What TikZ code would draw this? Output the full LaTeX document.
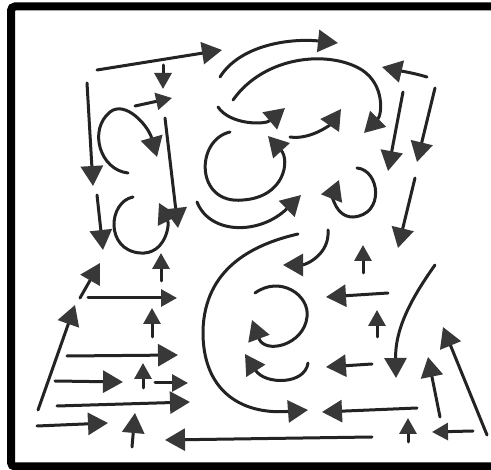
\documentclass[tikz,border=0pt]{standalone}
\usetikzlibrary{arrows.meta}
\definecolor{ink}{HTML}{232323}
\definecolor{headc}{HTML}{383838}
\tikzset{
  arr/.style={draw=ink, line width=3pt, line cap=round, -{Triangle[length=20pt,width=22pt,color=headc]}},
  sarr/.style={draw=ink, line width=3pt, line cap=round, -{Triangle[length=16pt,width=17pt,color=headc]}},
  frame/.style={line width=8pt, draw=black, rounded corners=4pt}
}
\begin{document}
\begin{tikzpicture}[x=1pt,y=-1pt]
\fill[white] (0,0) rectangle (491,470);
\useasboundingbox (0,0) rectangle (491,470);
\draw[frame] (498,6.5) -- (11,6.5) -- (11,466.5) -- (498,466.5);

% upper left
\draw[arr] (97,70) -- (222,50);
\draw[sarr] (163,65) -- (163,89);
\draw[sarr] (135,106) -- (172,98);
\draw[arr] (128,173) .. controls (100,170) and (88,130) .. (110,112) .. controls (125,100) and (148,125) .. (157,157);
\draw[arr] (87,83) -- (93,186);
\draw[arr] (165,118) -- (178,228);
\draw[arr] (97,195) -- (103,250);
\draw[arr] (133,197) .. controls (108,202) and (105,250) .. (140,253) .. controls (165,255) and (170,225) .. (159,203);
\draw[sarr] (161,281) -- (161,253);

% left lower
\draw[arr] (80,298) -- (100,263);
\draw[sarr] (88,298) -- (177,298);
\draw[sarr] (152,337) -- (152,308);
\draw[arr] (38,410) -- (75,305);
\draw[arr] (67,356) -- (178,355);
\draw[arr] (55,381) -- (123,382);
\draw[sarr] (143,388) -- (143,363);
\draw[sarr] (155,383) -- (188,383);
\draw[arr] (57,406) -- (190,402);
\draw[arr] (37,426) -- (108,423);
\draw[arr] (132,447) -- (135,413);
\draw[arr] (372,437) -- (165,440);

% upper middle
\draw[arr] (220,77) .. controls (240,45) and (290,38) .. (338,43);
\draw[arr] (233,100) .. controls (265,55) and (330,50) .. (362,70) .. controls (385,85) and (382,115) .. (364,133);
\draw[arr] (218,107) .. controls (230,125) and (265,125) .. (285,108);
\draw[arr] (290,137) .. controls (310,140) and (330,125) .. (341,109);
\draw[arr] (230,132) .. controls (195,140) and (195,205) .. (243,200) .. controls (285,197) and (290,160) .. (268,136);
\draw[arr] (197,202) .. controls (210,235) and (260,235) .. (301,195);
\draw[arr] (357,168) .. controls (380,170) and (385,215) .. (353,217) .. controls (335,217) and (333,195) .. (339,180);

% middle lower
\draw[arr] (298,234) .. controls (250,245) and (205,270) .. (203,330) .. controls (202,390) and (240,415) .. (308,410);
\draw[arr] (328,230) .. controls (330,255) and (305,265) .. (283,265);
\draw[sarr] (363,273) -- (363,245);
\draw[arr] (255,293) .. controls (280,275) and (310,295) .. (307,317) .. controls (304,345) and (265,355) .. (252,320);
\draw[arr] (308,363) .. controls (305,385) and (265,385) .. (245,354);
\draw[arr] (388,293) -- (326,297);
\draw[sarr] (377,337) -- (377,310);
\draw[arr] (372,364) -- (326,367);
\draw[arr] (417,408) -- (322,412);
\draw[sarr] (408,442) -- (408,418);

% right
\draw[arr] (427,77) .. controls (410,72) and (395,70) .. (382,67);
\draw[arr] (403,92) -- (388,171);
\draw[arr] (435,88) -- (417,162);
\draw[arr] (415,178) -- (398,248);
\draw[arr] (435,265) .. controls (410,300) and (395,330) .. (396,378);
\draw[arr] (440,417) -- (428,357);
\draw[arr] (487,435) -- (443,327);
\draw[sarr] (473,431) -- (432,432);
\end{tikzpicture}
\end{document}
